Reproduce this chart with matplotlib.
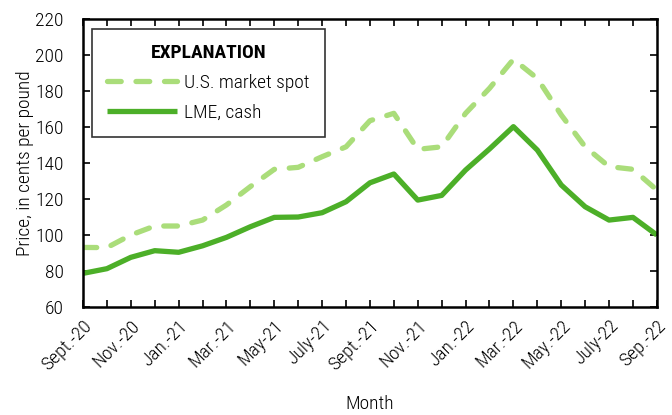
import matplotlib
matplotlib.use('Agg')
import matplotlib.pyplot as plt
import numpy as np
from matplotlib.ticker import MultipleLocator

plt.rcParams['font.family'] = ['Roboto Condensed', 'DejaVu Sans']
plt.rcParams['font.weight'] = 'light'

# monthly prices, Sept 2020 - Sept 2022
us_spot = [93.1, 93.0, 100.0, 105.0, 105.0, 108.3, 116.7, 126.9, 136.5, 137.6, 143.5, 149.0,
           163.5, 167.6, 147.6, 149.0, 167.6, 181.5, 197.6, 187.0, 166.7, 149.0, 138.0, 136.5, 125.0]
lme_cash = [78.7, 81.3, 87.6, 91.3, 90.4, 94.0, 98.7, 104.6, 109.8, 110.0, 112.4, 118.5,
            129.0, 133.9, 119.4, 122.0, 136.1, 147.8, 160.2, 147.2, 127.8, 115.7, 108.3, 109.8, 100.0]
tick_labels = ['Sept.-20', 'Nov.-20', 'Jan.-21', 'Mar.-21', 'May-21', 'July-21', 'Sept.-21',
               'Nov.-21', 'Jan.-22', 'Mar.-22', 'May.-22', 'July-22', 'Sep.-22']

x = np.arange(len(us_spot))

fig = plt.figure(figsize=(6.72, 4.15), dpi=100)
ax = fig.add_axes([0.1235, 0.2602, 0.854, 0.694])

ax.plot(x, us_spot, color='#aadd7a', lw=3.8, ls=(0, (2.6, 2.8)), dash_capstyle='round',
        label='U.S. market spot')
ax.plot(x, lme_cash, color='#4caf28', lw=3.8, solid_capstyle='butt', label='LME, cash')

ax.set_xlim(0, len(x) - 1)
ax.set_ylim(60, 220)
ax.yaxis.set_major_locator(MultipleLocator(20))
ax.set_xticks(x[::2])
ax.set_xticks(x, minor=True)
ax.set_xticklabels(tick_labels, rotation=45, ha='right', rotation_mode='anchor')
ax.tick_params(which='both', direction='in', top=True, right=True, length=5, width=1.2,
               labelsize=14)
ax.tick_params(axis='y', pad=14)
ax.tick_params(axis='x', pad=7)
for s in ax.spines.values():
    s.set_linewidth(1.8)

ax.set_xlabel('Month', fontsize=14, fontweight='light', labelpad=15)
ax.set_ylabel('Price, in cents per pound', fontsize=14, fontweight='light', labelpad=0.5)

leg = ax.legend(loc='upper left', bbox_to_anchor=(0.0157, 0.965), title='EXPLANATION',
                fontsize=14, title_fontproperties={'weight': 'bold', 'size': 14},
                fancybox=False, edgecolor='black', handlelength=3.6, borderpad=0.78,
                labelspacing=0.6, handletextpad=0.35, borderaxespad=0)
leg.get_frame().set_linewidth(1.2)

fig.savefig('out.png', dpi=100)
